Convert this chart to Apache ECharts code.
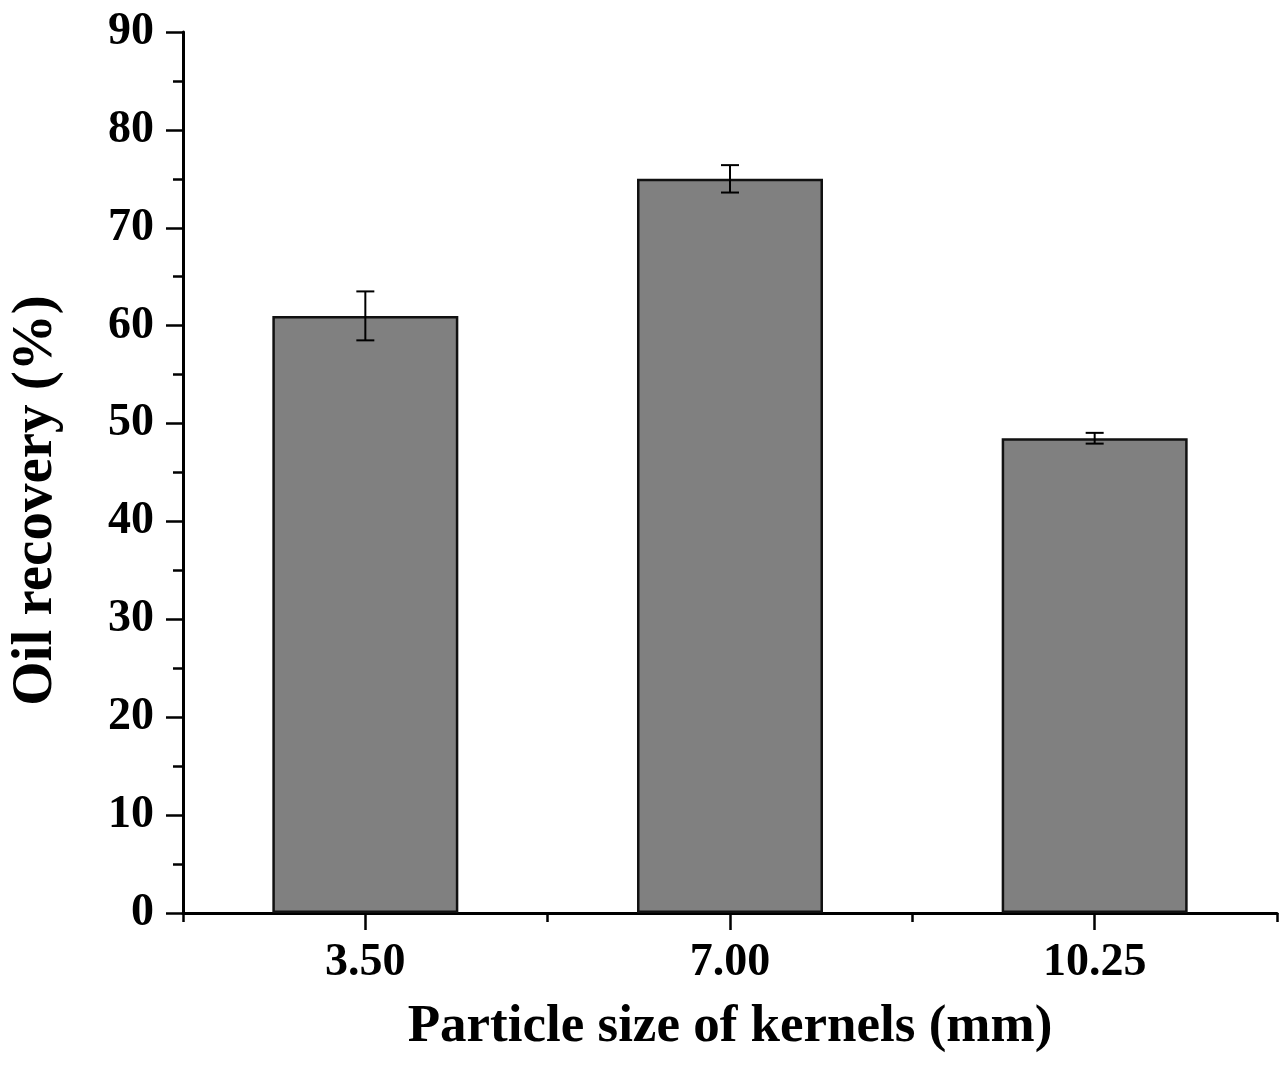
<!DOCTYPE html>
<html>
<head>
<meta charset="utf-8">
<script src="https://cdn.jsdelivr.net/npm/echarts@6/dist/echarts.min.js"></script>
<style>
html,body{margin:0;padding:0;background:#fff;}
#chart{width:1281px;height:1078px;}
</style>
</head>
<body>
<div id="chart"></div>
<script>
const categories = ['3.50', '7.00', '10.25'];
const oilRecovery = [61.0, 75.0, 48.5];
const errorValues = [2.5, 1.4, 0.55];
const yTicks = { min: 0, max: 90, interval: 10 };
const xTitle = 'Particle size of kernels (mm)';
const yTitle = 'Oil recovery (%)';

const FONT = '"Liberation Serif", "Times New Roman", serif';
const chart = echarts.init(document.getElementById('chart'));

const errData = categories.map((c, i) => [i, oilRecovery[i] - errorValues[i], oilRecovery[i] + errorValues[i]]);

chart.setOption({
  animation: false,
  backgroundColor: '#fff',
  grid: { left: 179, right: 4, top: 32, bottom: 165, containLabel: false },
  xAxis: [
    {
      type: 'category',
      data: categories,
      position: 'bottom',
      name: xTitle,
      nameLocation: 'middle',
      nameGap: 88,
      nameTextStyle: { fontFamily: FONT, fontWeight: 'bold', fontSize: 53, color: '#000' },
      axisLine: { show: true, lineStyle: { color: '#000', width: 3 } },
      axisTick: { show: true, alignWithLabel: true, length: 17, lineStyle: { color: '#000', width: 2.5 } },
      axisLabel: { margin: 27, fontFamily: FONT, fontWeight: 'bold', fontSize: 46, color: '#000' },
      splitLine: { show: false }
    },
    {
      type: 'category',
      data: categories,
      position: 'bottom',
      gridIndex: 0,
      axisLine: { show: false },
      axisTick: { show: true, alignWithLabel: false, length: 9, lineStyle: { color: '#000', width: 2.5 } },
      axisLabel: { show: false },
      splitLine: { show: false }
    }
  ],
  yAxis: {
    type: 'value',
    min: yTicks.min,
    max: yTicks.max,
    interval: yTicks.interval,
    name: yTitle,
    nameLocation: 'middle',
    nameGap: 118,
    nameRotate: 90,
    nameTextStyle: { fontFamily: FONT, fontWeight: 'bold', fontSize: 57, color: '#000', padding: [0, 56, 0, 0] },
    axisLine: { show: true, lineStyle: { color: '#000', width: 3 } },
    axisTick: { show: true, inside: false, length: 17, lineStyle: { color: '#000', width: 2.5 } },
    minorTick: { show: true, splitNumber: 2, length: 10, lineStyle: { color: '#000', width: 2.5 } },
    axisLabel: { margin: 29, fontFamily: FONT, fontWeight: 'bold', fontSize: 46, color: '#000' },
    splitLine: { show: false }
  },
  series: [
    {
      type: 'bar',
      data: oilRecovery,
      barWidth: '51%',
      itemStyle: { color: '#808080', borderColor: '#111', borderWidth: 2.5 },
      z: 2
    },
    {
      type: 'custom',
      data: errData,
      z: 5,
      renderItem: function (params, api) {
        const x = api.value(0);
        const lo = api.coord([x, api.value(1)]);
        const hi = api.coord([x, api.value(2)]);
        const hw = 9;
        const style = { stroke: '#000', lineWidth: 2 };
        return {
          type: 'group',
          children: [
            { type: 'line', shape: { x1: hi[0], y1: hi[1], x2: lo[0], y2: lo[1] }, style: style },
            { type: 'line', shape: { x1: hi[0] - hw, y1: hi[1], x2: hi[0] + hw, y2: hi[1] }, style: style },
            { type: 'line', shape: { x1: lo[0] - hw, y1: lo[1], x2: lo[0] + hw, y2: lo[1] }, style: style }
          ]
        };
      }
    }
  ]
});
</script>
</body>
</html>
